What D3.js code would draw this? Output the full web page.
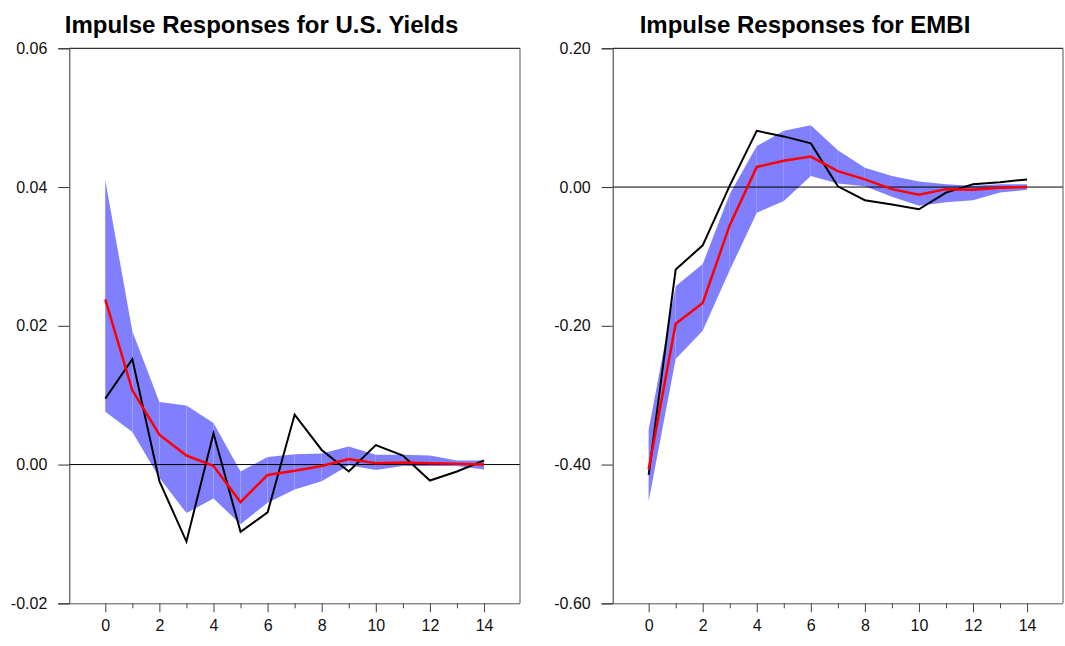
<!DOCTYPE html>
<html>
<head>
<meta charset="utf-8">
<script src="https://cdn.jsdelivr.net/npm/d3@7"></script>
<style>
  body { margin: 0; background: #fff; }
  svg { display: block; font-family: "Liberation Sans", Arial, sans-serif; }
</style>
</head>
<body>
<svg id="chart" width="1065" height="646"></svg>
<script>
// horizons (periods after the shock)
var horizons = [0, 1, 2, 3, 4, 5, 6, 7, 8, 9, 10, 11, 12, 13, 14];
var xTickValues = [0, 1, 2, 3, 4, 5, 6, 7, 8, 9, 10, 11, 12, 13, 14];
var xTickLabels = [0, 2, 4, 6, 8, 10, 12, 14];

// U.S. yields panel
var usTitle = 'Impulse Responses for U.S. Yields';
var usTicks = [-0.02, 0.00, 0.02, 0.04, 0.06];
var usMedian = [0.0238, 0.0107, 0.0043, 0.0013, -0.0002, -0.0054, -0.0015, -0.0009, -0.0002, 0.0008, 0.0002, 0.0003, 0.0002, 0.0001, 0.0000];
var usActual = [0.0095, 0.0152, -0.0024, -0.0111, 0.0045, -0.0097, -0.0069, 0.0072, 0.0021, -0.0010, 0.0028, 0.0013, -0.0023, -0.0010, 0.0006];
var usUpper = [0.0410, 0.0192, 0.0090, 0.0085, 0.0060, -0.0010, 0.0011, 0.0015, 0.0016, 0.0026, 0.0014, 0.0014, 0.0013, 0.0006, 0.0006];
var usLower = [0.0076, 0.0047, -0.0019, -0.0070, -0.0049, -0.0086, -0.0055, -0.0036, -0.0024, -0.0001, -0.0008, -0.0002, -0.0002, -0.0002, -0.0007];

// EMBI panel
var embiTitle = 'Impulse Responses for EMBI';
var embiTicks = [-0.60, -0.40, -0.20, 0.00, 0.20];
var embiMedian = [-0.407, -0.197, -0.167, -0.055, 0.029, 0.038, 0.044, 0.023, 0.011, -0.003, -0.011, -0.003, -0.004, -0.001, 0.000];
var embiActual = [-0.415, -0.119, -0.084, 0.002, 0.081, 0.073, 0.063, 0.001, -0.019, -0.025, -0.032, -0.008, 0.004, 0.007, 0.011];
var embiUpper = [-0.350, -0.143, -0.111, -0.010, 0.059, 0.081, 0.089, 0.053, 0.028, 0.016, 0.008, 0.004, 0.002, 0.004, 0.004];
var embiLower = [-0.453, -0.248, -0.207, -0.120, -0.037, -0.020, 0.016, 0.005, 0.001, -0.014, -0.027, -0.022, -0.019, -0.008, -0.004];

var svg = d3.select('#chart');
var fontFam = '"Liberation Sans", Arial, sans-serif';

function drawPanel(opts) {
  var x = d3.scaleLinear().domain([-1.33, 15.33]).range([opts.left, opts.right]);
  var y = d3.scaleLinear().domain([opts.ticks[0], opts.ticks[opts.ticks.length - 1]]).range([opts.bottom, opts.top]);
  var g = svg.append('g');

  // confidence band, one piece per period (gives the faint seams)
  var band = d3.area()
    .x(function(d) { return x(d.h); })
    .y0(function(d) { return y(d.lo); })
    .y1(function(d) { return y(d.hi); });
  for (var i = 0; i < horizons.length - 1; i++) {
    var seg = [i, i + 1].map(function(j) {
      return { h: horizons[j], lo: opts.lower[j], hi: opts.upper[j] };
    });
    g.append('path').attr('d', band(seg)).attr('fill', '#8080ff');
  }

  // zero line
  g.append('line')
    .attr('x1', opts.left).attr('x2', opts.right)
    .attr('y1', y(0)).attr('y2', y(0))
    .attr('stroke', '#000').attr('stroke-width', 1);

  var line = function(vals) {
    return d3.line()
      .x(function(d, k) { return x(horizons[k]); })
      .y(function(d) { return y(d); })(vals);
  };
  g.append('path').attr('d', line(opts.actual))
    .attr('fill', 'none').attr('stroke', '#000').attr('stroke-width', 2);
  g.append('path').attr('d', line(opts.median))
    .attr('fill', 'none').attr('stroke', '#ff0000').attr('stroke-width', 2.5);

  // frame: top + right
  g.append('line').attr('x1', opts.left).attr('x2', opts.right)
    .attr('y1', opts.top).attr('y2', opts.top).attr('stroke', '#000');
  g.append('line').attr('x1', opts.right).attr('x2', opts.right)
    .attr('y1', opts.top).attr('y2', opts.bottom).attr('stroke', '#555');

  // y axis
  var yAxis = d3.axisLeft(y).tickValues(opts.ticks).tickSize(11).tickPadding(11)
    .tickFormat(function(d) { return d.toFixed(2); });
  var ya = g.append('g').attr('transform', 'translate(' + opts.left + ',0)').call(yAxis);
  ya.attr('font-size', null).attr('font-family', null);
  ya.select('.domain').attr('stroke', '#333');
  ya.selectAll('.tick line').attr('stroke', '#333');
  ya.selectAll('text').style('font-size', '16px').attr('fill', '#111')
    .style('font-family', fontFam);

  // x axis
  var xAxis = d3.axisBottom(x).tickValues(xTickValues).tickSizeOuter(0)
    .tickSize(9).tickPadding(7)
    .tickFormat(function(d) { return xTickLabels.indexOf(d) >= 0 ? d : ''; });
  var xa = g.append('g').attr('transform', 'translate(0,' + opts.bottom + ')').call(xAxis);
  xa.attr('font-size', null).attr('font-family', null);
  xa.select('.domain').attr('d', 'M' + (opts.left - 11) + ',0.5H' + opts.right).attr('stroke', '#555');
  xa.selectAll('.tick line').attr('stroke', '#444')
    .attr('y2', function(d) { return xTickLabels.indexOf(d) >= 0 ? 9 : 5; });
  xa.selectAll('text').style('font-size', '16px').attr('fill', '#111')
    .style('font-family', fontFam);

  // title
  svg.append('text')
    .attr('x', opts.titleX).attr('y', 32.5)
    .attr('text-anchor', 'middle')
    .style('font-size', '24px').attr('font-weight', 'bold')
    .style('font-family', fontFam)
    .text(opts.title);
}

drawPanel({
  left: 69.3, right: 520, top: 48.3, bottom: 603.3, titleX: 261.5,
  ticks: usTicks, title: usTitle,
  median: usMedian, actual: usActual, upper: usUpper, lower: usLower
});

drawPanel({
  left: 612.7, right: 1063, top: 48.3, bottom: 603.3, titleX: 805,
  ticks: embiTicks, title: embiTitle,
  median: embiMedian, actual: embiActual, upper: embiUpper, lower: embiLower
});
</script>
</body>
</html>
